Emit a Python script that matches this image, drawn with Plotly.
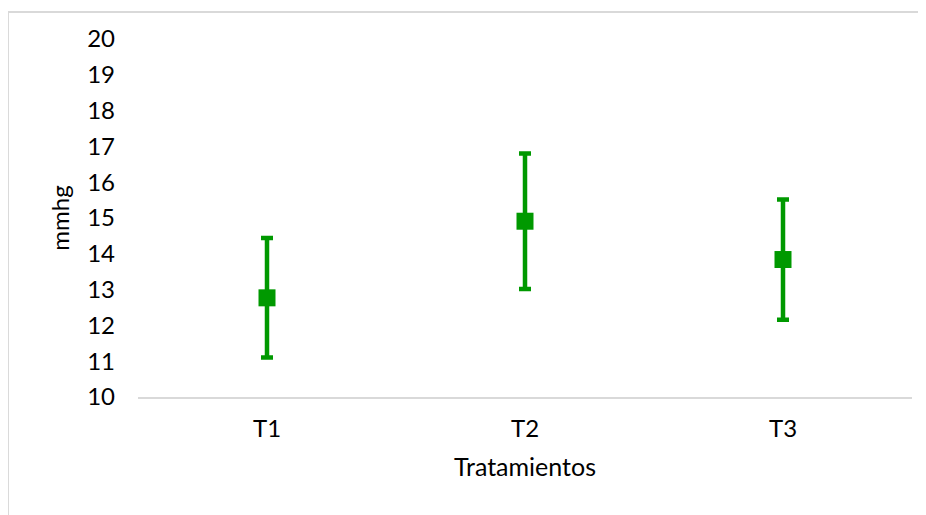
import plotly.graph_objects as go

categories = ["T1", "T2", "T3"]
means = [12.77, 14.91, 13.84]
errors = [1.67, 1.89, 1.68]
y_ticks = list(range(10, 21))

GREEN = "#009900"
FONT = "Lato"

fig = go.Figure()
fig.add_trace(go.Scatter(
    x=categories, y=means, mode="markers",
    marker=dict(symbol="square", size=17, color=GREEN),
    error_y=dict(type="data", array=errors, visible=True, color=GREEN,
                 thickness=4.5, width=6),
    showlegend=False,
))

fig.update_layout(
    width=926, height=515,
    margin=dict(l=130, r=22, t=31, b=126),
    paper_bgcolor="white", plot_bgcolor="white",
    font=dict(family=FONT, size=24, color="#000000"),
    xaxis=dict(
        type="category", range=[-0.5, 2.5],
        showgrid=False, showline=True, linecolor="#d9d9d9", linewidth=2,
        ticks="", ticklabelstandoff=9,
        title=dict(text="Tratamientos", font=dict(size=25), standoff=18),
        zeroline=False,
    ),
    yaxis=dict(
        range=[10, 20], tickvals=y_ticks, ticktext=[str(v) for v in y_ticks],
        showgrid=False, showline=False, zeroline=False,
        ticks="", ticklabelstandoff=22,
        title=dict(text="mmhg", font=dict(size=24), standoff=10),
    ),
    shapes=[
        dict(type="line", xref="paper", yref="paper",
             x0=-0.168, x1=1.2, y0=1.0754, y1=1.0754,
             line=dict(color="#d9d9d9", width=2)),
        dict(type="line", xref="paper", yref="paper",
             x0=-0.168, x1=-0.168, y0=1.0754, y1=-0.5,
             line=dict(color="#d9d9d9", width=2)),
    ],
)

fig.write_html("out.html")
